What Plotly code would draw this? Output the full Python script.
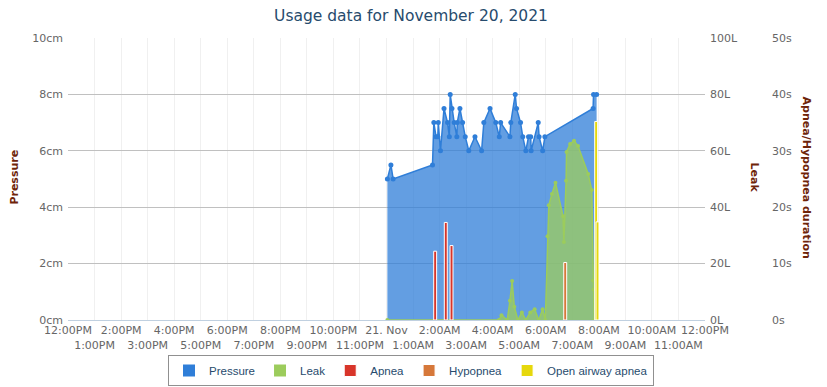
import plotly.graph_objects as go
import pandas as pd

# ---------------- data ----------------
pressure_times = [
    "2021-11-21 00:02", "2021-11-21 00:10", "2021-11-21 00:15", "2021-11-21 01:44",
    "2021-11-21 01:47", "2021-11-21 01:52", "2021-11-21 01:56", "2021-11-21 01:57",
    "2021-11-21 02:02", "2021-11-21 02:10", "2021-11-21 02:18", "2021-11-21 02:22",
    "2021-11-21 02:24", "2021-11-21 02:28", "2021-11-21 02:33", "2021-11-21 02:39",
    "2021-11-21 02:40", "2021-11-21 02:46", "2021-11-21 02:52", "2021-11-21 02:58",
    "2021-11-21 03:06", "2021-11-21 03:20", "2021-11-21 03:35", "2021-11-21 03:40",
    "2021-11-21 03:54", "2021-11-21 04:07", "2021-11-21 04:15", "2021-11-21 04:18",
    "2021-11-21 04:39", "2021-11-21 04:41", "2021-11-21 04:51", "2021-11-21 04:54",
    "2021-11-21 05:03", "2021-11-21 05:08", "2021-11-21 05:15", "2021-11-21 05:21",
    "2021-11-21 05:26", "2021-11-21 05:27", "2021-11-21 05:43", "2021-11-21 05:45",
    "2021-11-21 05:53", "2021-11-21 05:58", "2021-11-21 07:47", "2021-11-21 07:48",
    "2021-11-21 07:55",
]
pressure_values = [
    5.0, 5.5, 5.0, 5.5,
    7.0, 6.5, 6.5, 7.0,
    6.0, 7.5, 7.0, 6.5,
    8.0, 7.5, 7.0, 6.5,
    7.0, 7.5, 7.0, 6.5,
    6.0, 6.5, 6.0, 7.0,
    7.5, 7.0, 6.5, 7.0,
    6.5, 7.0, 8.0, 7.5,
    7.0, 6.5, 6.0, 6.5,
    6.5, 6.0, 7.0, 6.5,
    6.0, 6.5, 7.5, 8.0,
    8.0,
]

leak_times = [
    "2021-11-21 00:02", "2021-11-21 04:14", "2021-11-21 04:20", "2021-11-21 04:33",
    "2021-11-21 04:39", "2021-11-21 04:44", "2021-11-21 04:49", "2021-11-21 04:57",
    "2021-11-21 05:06", "2021-11-21 05:15", "2021-11-21 05:25", "2021-11-21 05:35",
    "2021-11-21 05:44", "2021-11-21 05:53", "2021-11-21 05:59", "2021-11-21 06:04",
    "2021-11-21 06:07", "2021-11-21 06:14", "2021-11-21 06:22", "2021-11-21 06:39",
    "2021-11-21 06:41", "2021-11-21 06:46", "2021-11-21 06:47", "2021-11-21 06:55",
    "2021-11-21 07:04", "2021-11-21 07:13", "2021-11-21 07:36", "2021-11-21 07:44",
    "2021-11-21 07:47", "2021-11-21 07:48", "2021-11-21 07:50",
]
leak_values = [
    0, 0, 1.7, 0,
    6.8, 13.8, 4.7, 0,
    2.7, 0, 2.7, 3.8,
    0, 3.8, 0, 29.7,
    40.7, 44.7, 48.7, 36.8,
    27.7, 49.4, 59.6, 62.4,
    63.6, 61.7, 51.8, 46.1,
    14.0, 10.8, 0,
]

apnea_times = ["2021-11-21 01:50", "2021-11-21 02:14", "2021-11-21 02:27"]
apnea_values = [12.2, 17.3, 13.2]

hypopnea_times = ["2021-11-21 06:44"]
hypopnea_values = [10.2]

open_airway_times = ["2021-11-21 07:54", "2021-11-21 07:57"]
open_airway_values = [35.2, 17.4]

x_tick_labels = [
    "12:00PM", "1:00PM", "2:00PM", "3:00PM", "4:00PM", "5:00PM", "6:00PM",
    "7:00PM", "8:00PM", "9:00PM", "10:00PM", "11:00PM", "21. Nov",
    "1:00AM", "2:00AM", "3:00AM", "4:00AM", "5:00AM", "6:00AM", "7:00AM",
    "8:00AM", "9:00AM", "10:00AM", "11:00AM", "12:00PM",
]

# ---------------- styling ----------------
C_PRESSURE = "#2f7ed8"
C_LEAK = "#9ccc5c"
C_APNEA = "#d8352a"
C_HYPO = "#d6783a"
C_OPEN = "#e6d80c"
AXIS_TITLE = "#6e2409"
FONT = "DejaVu Sans"
LEGEND_FONT = "Liberation Sans"

tick_vals = pd.date_range("2021-11-20 12:00", "2021-11-21 12:00", freq="h")
tick_text = [lab if i % 2 == 0 else " <br>" + lab for i, lab in enumerate(x_tick_labels)]

BAR_W = 400000  # ms

fig = go.Figure()

fig.add_trace(go.Scatter(
    x=pressure_times, y=pressure_values, yaxis="y", name="Pressure",
    mode="lines+markers", fill="tozeroy", fillcolor="rgba(47,126,216,0.75)",
    line=dict(color=C_PRESSURE, width=1.5), marker=dict(color=C_PRESSURE, size=5),
    showlegend=False,
))
fig.add_trace(go.Scatter(
    x=leak_times, y=leak_values, yaxis="y2", name="Leak",
    mode="lines+markers", fill="tozeroy", fillcolor="rgba(156,204,92,0.75)",
    line=dict(color=C_LEAK, width=1.5), marker=dict(color=C_LEAK, size=4),
    showlegend=False,
))

# legend entries (no marks)
fig.add_trace(go.Bar(x=[None], y=[None], yaxis="y3", name="Pressure",
                     marker=dict(color=C_PRESSURE, line=dict(width=0)), legendrank=1))
fig.add_trace(go.Bar(x=[None], y=[None], yaxis="y3", name="Leak",
                     marker=dict(color=C_LEAK, line=dict(width=0)), legendrank=2))

fig.add_trace(go.Bar(x=apnea_times, y=apnea_values, yaxis="y3", name="Apnea",
                     width=[BAR_W] * len(apnea_times),
                     marker=dict(color=C_APNEA, line=dict(color="white", width=1)), legendrank=3))
fig.add_trace(go.Bar(x=hypopnea_times, y=hypopnea_values, yaxis="y3", name="Hypopnea",
                     width=[BAR_W] * len(hypopnea_times),
                     marker=dict(color=C_HYPO, line=dict(color="white", width=1)), legendrank=4))
fig.add_trace(go.Bar(x=open_airway_times, y=open_airway_values, yaxis="y3", name="Open airway apnea",
                     width=[BAR_W] * len(open_airway_times),
                     marker=dict(color=C_OPEN, line=dict(color="white", width=1)), legendrank=5))

W, H = 827, 387
ML, MR, MT, MB = 68, 27, 38, 67
paper_w = W - ML - MR
plot_right = 705
x_dom_end = (plot_right - ML) / paper_w

def px_to_paper_x(px):
    return (px - ML) / paper_w

tickfont = dict(family=FONT, size=11, color="#666666")
title_font = dict(family=FONT, size=11, color=AXIS_TITLE)

fig.update_layout(
    width=W, height=H,
    margin=dict(l=ML, r=MR, t=MT, b=MB, autoexpand=False),
    paper_bgcolor="white", plot_bgcolor="white",
    font=dict(family=FONT),
    barmode="overlay",
    title=dict(text="Usage data for November 20, 2021", x=411 / W, xref="container", xanchor="center",
               y=1 - 10 / H, yref="container", yanchor="top",
               font=dict(family=FONT, size=15.5, color="#274b6d")),
    xaxis=dict(
        type="date", domain=[0, x_dom_end],
        range=["2021-11-20 12:00", "2021-11-21 12:00"],
        tickmode="array", tickvals=tick_vals, ticktext=tick_text, tickangle=0,
        tickfont=tickfont, showgrid=True, gridcolor="#f0f0f0", gridwidth=1,
        showline=True, linecolor="#C0D0E0", linewidth=1, zeroline=False, ticks="",
        ticklabelstandoff=0,
    ),
    yaxis=dict(
        range=[0, 10], dtick=2, ticksuffix="cm", tickfont=tickfont,
        showgrid=True, gridcolor="#C0C0C0", gridwidth=1, zeroline=False,
        showline=False, ticks="", ticklabelstandoff=4,
    ),
    yaxis2=dict(
        overlaying="y", side="right", anchor="x",
        range=[0, 100], dtick=20, ticksuffix="L", tickfont=tickfont,
        showgrid=False, zeroline=False, showline=False, ticks="", ticklabelstandoff=4,
    ),
    yaxis3=dict(
        overlaying="y", side="right", anchor="free", position=px_to_paper_x(767),
        range=[0, 50], dtick=10, ticksuffix="s", tickfont=tickfont,
        showgrid=False, zeroline=False, showline=False, ticks="", ticklabelstandoff=4,
    ),
    legend=dict(
        orientation="h", x=411 / W, xref="container", xanchor="center",
        y=1 - 355 / H, yref="container", yanchor="top",
        bordercolor="#909090", borderwidth=1, bgcolor="white",
        font=dict(family=LEGEND_FONT, size=11.5, color="#274b6d"),
        itemwidth=30, traceorder="normal", tracegroupgap=0,
    ),
    annotations=[
        dict(text="<b>Pressure</b>", textangle=-90, x=px_to_paper_x(15), y=0.505,
             xref="paper", yref="paper", xanchor="center", yanchor="middle", showarrow=False,
             font=title_font),
        dict(text="<b>Leak</b>", textangle=90, x=px_to_paper_x(754), y=0.505,
             xref="paper", yref="paper", xanchor="center", yanchor="middle", showarrow=False,
             font=title_font),
        dict(text="<b>Apnea/Hypopnea duration</b>", textangle=90, x=px_to_paper_x(806), y=0.505,
             xref="paper", yref="paper", xanchor="center", yanchor="middle", showarrow=False,
             font=title_font),
    ],
)

fig.write_html("out.html", config={"displayModeBar": False},
               post_script="document.body.style.margin='0px';")
